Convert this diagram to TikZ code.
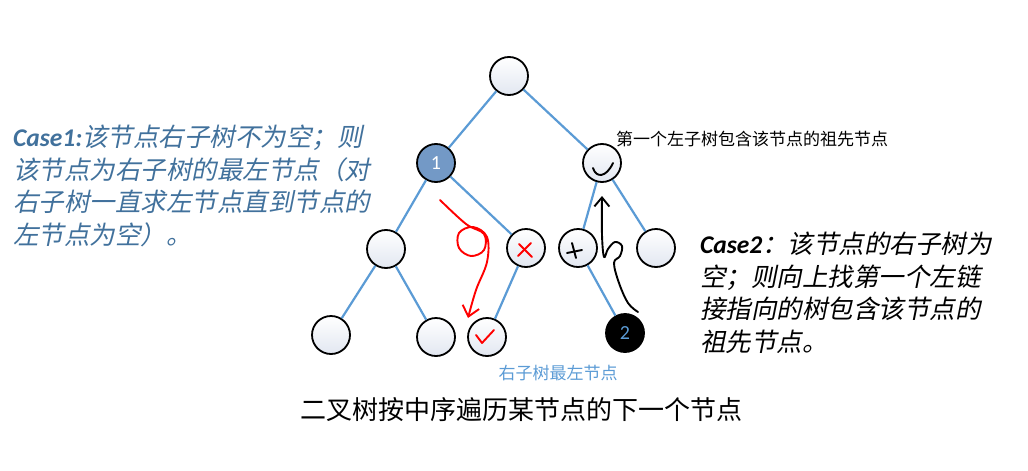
\documentclass[tikz,border=0pt]{standalone}
\usepackage{fontspec}
\usetikzlibrary{arrows.meta}
\newfontfamily\cjk{Noto Sans CJK SC}
\newfontfamily\cjkit[FakeSlant=0.2]{Noto Sans CJK SC}
\newfontfamily\calibri{Carlito}
\definecolor{edgeblue}{HTML}{5B9BD5}
\definecolor{caseblue}{HTML}{41719C}
\definecolor{nodeblue}{HTML}{7399C6}
\definecolor{nodegray}{HTML}{E2E7F1}

\begin{document}
\begin{tikzpicture}[x=1pt, y=-1pt,
    tnode/.style={circle, draw=black, line width=1.8pt, minimum size=38pt, inner sep=0pt,
        top color=white, bottom color=nodegray, font=\calibri\fontsize{20}{20}\selectfont},
    tedge/.style={edgeblue, line width=2.2pt},
    redpen/.style={red, line width=1.9pt, line cap=round, line join=round},
    blackpen/.style={black, line width=1.9pt, line cap=round, line join=round},
    casetext/.style={anchor=north west, inner sep=0pt, align=left,
        font=\cjkit\fontsize{25.5}{32.5}\selectfont}]
    \useasboundingbox (0,0) rectangle (1028,471);

    \node[tnode] (root) at (509,76) {};
    \node[tnode, top color=nodeblue, bottom color=nodeblue, text=white] (n1) at (436,163) {1};
    \node[tnode] (nr) at (602,163) {};
    \node[tnode] (ll) at (386,249) {};
    \node[tnode] (lr) at (526,248) {};
    \node[tnode] (rl) at (578,248) {};
    \node[tnode] (rr) at (656,248) {};
    \node[tnode] (b1) at (331,335) {};
    \node[tnode] (b2) at (436,337) {};
    \node[tnode] (b3) at (487,337) {};
    \node[tnode, top color=black, bottom color=black, text=edgeblue] (b4) at (625,333) {2};

    \draw[tedge] (root) -- (n1);
    \draw[tedge] (root) -- (nr);
    \draw[tedge] (n1) -- (ll);
    \draw[tedge] (n1) -- (lr);
    \draw[tedge] (nr) -- (rl);
    \draw[tedge] (nr) -- (rr);
    \draw[tedge] (ll) -- (b1);
    \draw[tedge] (ll) -- (b2);
    \draw[tedge] (lr) -- (b3);
    \draw[tedge] (rl) -- (b4);

    \draw[redpen] (519,244) -- (532,257);
    \draw[redpen] (531,243) -- (518,256);
    \draw[redpen] (476,335) -- (482,343) -- (494,330);
    \draw[redpen, -{Straight Barb[length=10pt, width=17pt]}] plot[smooth, tension=0.6] coordinates
        {(440,200) (466,224) (484,234) (484,250) (471,256) (459,248) (459,233) (473,227) (487,237) (487,262) (476,290) (468,318)};

    \draw[blackpen] (593,168) .. controls (596,178) and (606,178) .. (613,163);
    \draw[blackpen] (567,253) -- (582,250);
    \draw[blackpen] (572,243) -- (576,258);
    \draw[blackpen, -{Straight Barb[length=9pt, width=15pt]}] plot[smooth, tension=0.6] coordinates
        {(638,312) (628,303) (619,283) (614,263) (620,256) (622,246) (615,242) (608,249) (604,257) (602,235) (602,196)};

    \node[casetext, text=caseblue] (case1) at (13,125)
        {{\calibri\bfseries\itshape Case1:}该节点右子树不为空；则\\该节点为右子树的最左节点（对\\右子树一直求左节点直到节点的\\左节点为空）。};
    \node[casetext] (case2) at (700,232)
        {{\calibri\bfseries\itshape Case2}：该节点的右子树为\\空；则向上找第一个左链\\接指向的树包含该节点的\\祖先节点。};
    \node[anchor=west, inner sep=0pt, font=\cjk\fontsize{17}{17}\selectfont] (ancestor) at (616,139)
        {第一个左子树包含该节点的祖先节点};
    \node[text=edgeblue, inner sep=0pt, font=\cjk\fontsize{17}{17}\selectfont] (leftmost) at (558,373)
        {右子树最左节点};
    \node[inner sep=0pt, font=\cjk\fontsize{26}{26}\selectfont] (caption) at (521,410)
        {二叉树按中序遍历某节点的下一个节点};
\end{tikzpicture}
\end{document}
